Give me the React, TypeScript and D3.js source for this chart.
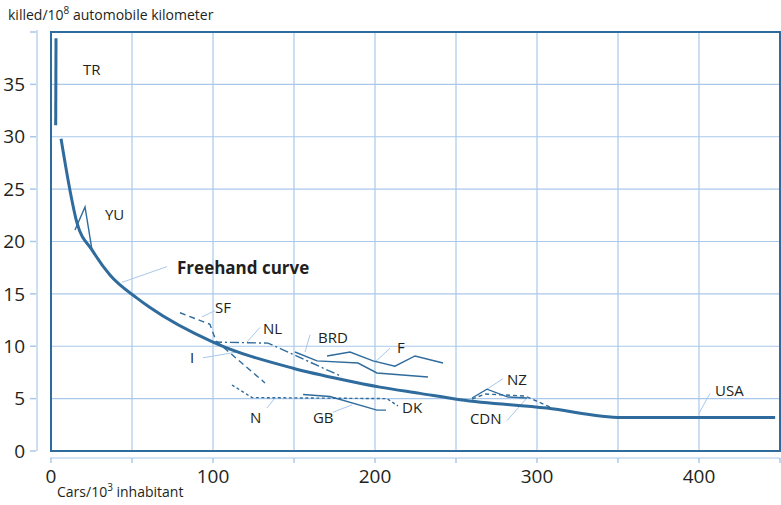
import React from 'react';
import * as d3 from 'd3';

// values (x: cars per 1000 inhabitants, y: killed per 10^8 km)
const xTicks = [0, 100, 200, 300, 400];
const xGrid = [0, 50, 100, 150, 200, 250, 300, 350, 400, 450];
const yTicks = [0, 5, 10, 15, 20, 25, 30, 35];
const yGrid = [5, 10, 15, 20, 25, 30, 35, 40];

const freehand: [number, number][] = [
  [6.2, 29.8], [11.7, 24.9], [16, 21.8], [25.3, 19.2], [36.4, 16.8], [53.1, 14.6],
  [61.1, 13.7], [100, 10.4], [149.4, 7.9], [180.2, 6.8], [203, 6.1], [227.8, 5.5],
  [252.5, 4.9], [306, 4.1], [352.5, 3.2], [447, 3.2],
];
const trLine: [number, number][] = [[3.1, 39.4], [2.9, 31.1]];
const yuLine: [number, number][] = [[14.8, 21.1], [21, 23.3], [25.3, 19.2]];
const sfLine: [number, number][] = [[79.6, 13.2], [98.1, 12.1], [101.9, 10.5], [132.1, 6.5]];
const nlLine: [number, number][] = [[100, 10.4], [134, 10.3], [179.6, 7.1]];
const brdLine: [number, number][] = [[150.6, 9.45], [164.2, 8.6], [189.5, 8.4], [201.2, 7.45], [232.7, 7.06]];
const fLine: [number, number][] = [[170.4, 9.07], [184.6, 9.45], [198.8, 8.6], [212.3, 8.1], [224.7, 9.07], [242, 8.4]];
const nLine: [number, number][] = [[111.7, 6.3], [124.1, 5.1], [207.4, 5.0], [214.2, 4.3]];
const gbLine: [number, number][] = [[155.6, 5.4], [172.2, 5.2], [201.2, 3.9], [206.8, 3.9]];
const nzLine: [number, number][] = [[259.9, 5.06], [269.1, 5.9], [282.1, 5.15], [293.8, 5.06]];
const cdnLine: [number, number][] = [[259.9, 4.96], [267.9, 5.44], [292.6, 5.25], [308, 4.2]];

const labelNames = ['TR', 'YU', 'SF', 'NL', 'BRD', 'F', 'I', 'N', 'GB', 'DK', 'NZ', 'CDN', 'USA'];
const labelX = [19.8, 33.3, 101.2, 130.9, 164.8, 213.6, 85.8, 122.8, 161.7, 216.7, 281.5, 258.6, 409.9];
const labelY = [35.9, 22.1, 13.2, 11.2, 10.3, 9.35, 8.4, 2.7, 2.7, 3.6, 6.3, 2.6, 5.25];

// leader lines from label to curve: [x1, y1, x2, y2]
const leaders = [
  [43.8, 16.1, 71.6, 17.6],
  [93.2, 12.8, 101.2, 13.4],
  [121, 10.4, 129, 11.8],
  [93.8, 8.9, 114.8, 9.45],
  [156.8, 9.45, 159.9, 11.1],
  [200, 8.5, 209.3, 9.8],
  [133.3, 4.1, 138.3, 5.06],
  [174, 3.7, 185.8, 4.4],
  [269.1, 5.9, 279, 6.9],
  [281.5, 2.9, 293.8, 5.06],
  [400, 3.6, 406.8, 5.5],
];

const W = 781;
const H = 505;
const dark = '#2f6b9c';
const grid = '#a9c8ea';
const txt = '#231f20';
const font = '"Open Sans", "Noto Sans", sans-serif';

export default function App() {
  const x = d3.scaleLinear().domain([0, 450]).range([51, 780]);
  const y = d3.scaleLinear().domain([0, 40]).range([451, 32]);
  const line = d3.line<[number, number]>().x(d => x(d[0])).y(d => y(d[1]));
  const smooth = d3.line<[number, number]>().x(d => x(d[0])).y(d => y(d[1])).curve(d3.curveMonotoneX);

  const thin = [
    { d: yuLine, dash: undefined },
    { d: sfLine, dash: '6,4' },
    { d: nlLine, dash: '9,3,2,3' },
    { d: brdLine, dash: undefined },
    { d: fLine, dash: undefined },
    { d: nLine, dash: '3,2.5' },
    { d: gbLine, dash: undefined },
    { d: nzLine, dash: undefined },
    { d: cdnLine, dash: '4,3' },
  ];

  return (
    <svg width={W} height={H} style={{ position: 'fixed', left: 0, top: 0, background: '#fff' }} fontFamily={font}>
      {/* grid */}
      {xGrid.map(v => (
        <line key={'gx' + v} x1={x(v)} x2={x(v)} y1={y(0)} y2={y(40)} stroke={grid} strokeWidth={1.2} />
      ))}
      {yGrid.map(v => (
        <line key={'gy' + v} x1={x(0)} x2={x(450)} y1={y(v)} y2={y(v)} stroke={grid} strokeWidth={1.2} />
      ))}
      {/* frame */}
      <rect x={x(0)} y={y(40)} width={x(450) - x(0)} height={y(0) - y(40)} fill="none" stroke={dark} strokeWidth={2} />

      {/* y axis */}
      <line x1={37} x2={37} y1={y(40) - 2} y2={y(0)} stroke={grid} strokeWidth={1.2} />
      {[...yTicks, 40].map(v => (
        <line key={'ty' + v} x1={30} x2={36} y1={y(v)} y2={y(v)} stroke={grid} strokeWidth={1.5} />
      ))}
      {yTicks.map(v => (
        <text key={'ly' + v} x={25} y={y(v)} dy="0.35em" textAnchor="end" fontSize={19} fill={txt}>{v}</text>
      ))}

      {/* x axis */}
      <line x1={x(0) - 1} x2={x(450)} y1={458} y2={458} stroke={grid} strokeWidth={1.2} />
      {xGrid.map(v => (
        <line key={'tx' + v} x1={x(v)} x2={x(v)} y1={458} y2={463} stroke={grid} strokeWidth={1.5} />
      ))}
      {xTicks.map(v => (
        <text key={'lx' + v} x={x(v)} y={483} textAnchor="middle" fontSize={19} fill={txt}>{v}</text>
      ))}

      {/* axis titles */}
      <text x={8} y={20} fontSize={14} fill={txt}>
        killed/10<tspan dy={-6} fontSize={10}>8</tspan><tspan dy={6}> automobile kilometer</tspan>
      </text>
      <text x={57} y={497} fontSize={14} fill={txt}>
        Cars/10<tspan dy={-6} fontSize={10}>3</tspan><tspan dy={6}> inhabitant</tspan>
      </text>

      {/* leaders */}
      {leaders.map((l, i) => (
        <line key={'ld' + i} x1={x(l[0])} y1={y(l[1])} x2={x(l[2])} y2={y(l[3])} stroke={grid} strokeWidth={1} />
      ))}

      {/* country lines */}
      {thin.map((t, i) => (
        <path key={'c' + i} d={line(t.d) || ''} fill="none" stroke={dark} strokeWidth={1.4} strokeDasharray={t.dash} />
      ))}
      <path d={line(trLine) || ''} fill="none" stroke={dark} strokeWidth={3} />
      <path d={smooth(freehand) || ''} fill="none" stroke={dark} strokeWidth={3} />

      {/* labels */}
      {labelNames.map((n, i) => (
        <text key={'lb' + n} x={x(labelX[i])} y={y(labelY[i])} fontSize={15} fill={txt}>{n}</text>
      ))}
      <text x={x(77.8)} y={y(16.9)} fontSize={17} fontWeight="bold" fill={txt}>Freehand curve</text>
    </svg>
  );
}
